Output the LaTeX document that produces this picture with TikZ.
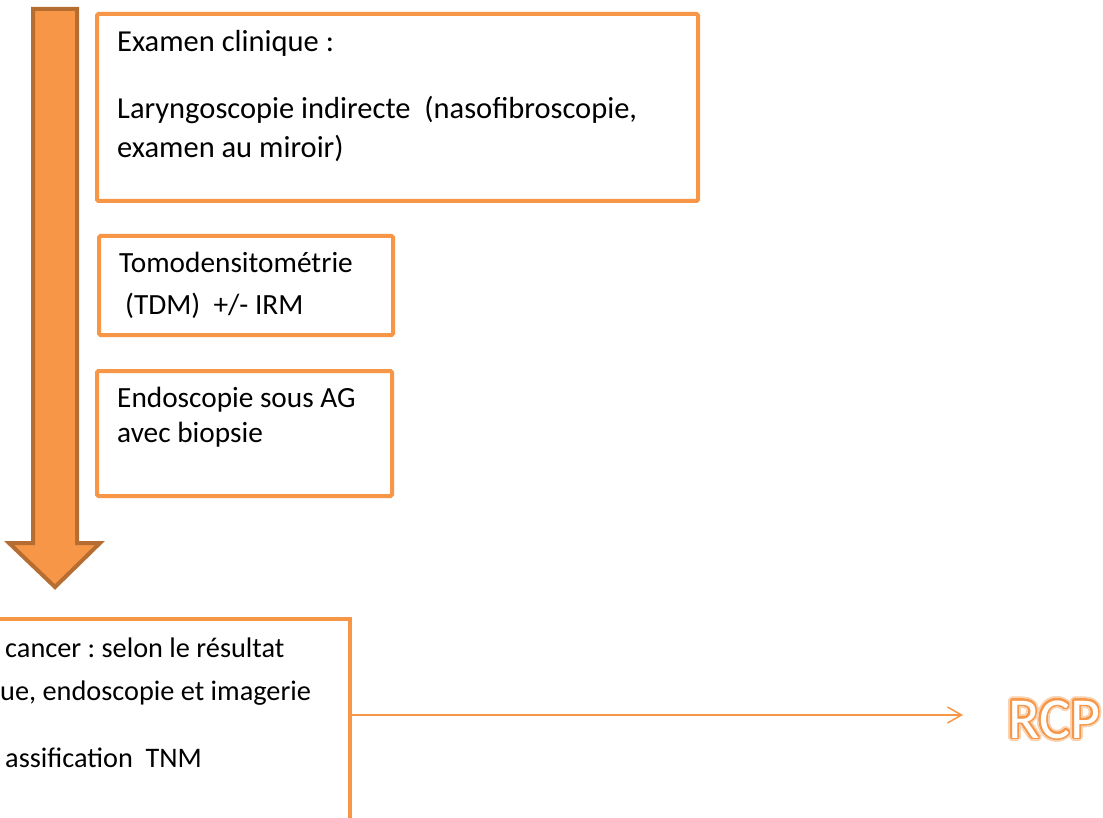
\documentclass[tikz,border=0pt]{standalone}
\usepackage{fontspec}
\setmainfont{Carlito}
\usepackage[copies]{contour}
\contournumber{32}
\usetikzlibrary{arrows.meta}
\definecolor{orng}{HTML}{F79646}
\definecolor{orngdark}{HTML}{B66D31}
\definecolor{glow}{HTML}{FBD2B0}
\frenchspacing
\begin{document}
\begin{tikzpicture}[x=1pt,y=-1pt,
  box/.style={draw=orng, line width=4pt, rounded corners=1.5pt, inner sep=0pt, anchor=north west},
  txt/.style={anchor=base west, inner sep=0pt, font=\fontsize{30.5}{39}\selectfont},
  txtm/.style={txt, font=\fontsize{29.3}{39}\selectfont},
  txts/.style={txt, font=\fontsize{28.3}{39}\selectfont},
  rcpstyle/.style={anchor=base west, inner sep=0pt, font=\fontsize{58}{60}\selectfont},
  conn/.style={draw=orng, line width=1.5pt, -{Straight Barb[length=14pt,width=16pt,line width=1.5pt]}},
]
\useasboundingbox (0,0) rectangle (1103,818);
\fill[white] (0,0) rectangle (1103,818);
% big down arrow
\draw[fill=orng, draw=orngdark, line width=4pt, line join=miter]
  (33,9) -- (77,9) -- (77,543) -- (100,543) -- (55,587) -- (9,543) -- (33,543) -- cycle;
% boxes
\node[box, minimum width=601pt, minimum height=187pt] (b1) at (95,12) {};
\node[box, minimum width=294pt, minimum height=99pt] (b2) at (97,234) {};
\node[box, minimum width=295pt, minimum height=125pt] (b3) at (95,369) {};
\draw[orng, line width=4pt] (-5,619) -- (350,619) -- (350,830);
% texts
\node[txt] (t1a) at (117,52) {Examen clinique :};
\node[txt] (t1b) at (117,119) {Laryngoscopie indirecte\ \ (nasofibroscopie,};
\node[txt] (t1c) at (117,158) {examen au miroir)};
\node[txtm] (t2a) at (119,273) {Tomodensitométrie};
\node[txtm] (t2b) at (125,315) {(TDM)\ \ +/- IRM};
\node[txtm] (t3a) at (117,407) {Endoscopie sous AG};
\node[txtm] (t3b) at (117,442) {avec biopsie};
\node[txts] (t4a) at (5,657) {cancer : selon le résultat};
\node[txts] (t4b) at (0,700) {ue, endoscopie et imagerie};
\node[txts] (t4c) at (5,767) {assification\ \ TNM};
% RCP with soft halo
\node[rcpstyle] (rcpglow) at (1008,738)
  {\contourlength{3.5pt}\color{white}\contour{glow}{RCP}};
\node[rcpstyle] (rcp) at (1008,738)
  {\contourlength{1.6pt}\color{white}\contour{orng}{RCP}};
% connector
\coordinate (c) at (352,715);
\draw[conn, shorten >=45pt] (c) -- (c -| rcp.west);
\end{tikzpicture}
\end{document}
